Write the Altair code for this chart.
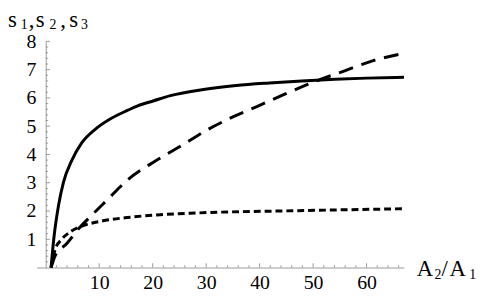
import altair as alt
import pandas as pd

# ---- data ----
s1_x = [1, 1.5, 2.4, 3.3, 4.9, 6.7, 9.2, 12.2, 15.3, 17.2, 20.2, 23.3, 29.5, 35.6, 41.8, 47.9, 54.1, 60, 67]
s1_y = [0, 1.0, 2.2, 3.0, 3.8, 4.4, 4.88, 5.27, 5.56, 5.72, 5.9, 6.08, 6.3, 6.44, 6.53, 6.6, 6.66, 6.7, 6.73]
s2_x = [1, 1.8, 3.9, 6.1, 8.5, 11.6, 15.3, 20.8, 25.1, 30.1, 35, 39.9, 44.8, 49.1, 55.9, 61.1, 67]
s2_y = [0, 0.43, 0.84, 1.36, 1.83, 2.41, 3.1, 3.8, 4.28, 4.86, 5.33, 5.73, 6.14, 6.49, 6.96, 7.31, 7.58]
s3_x = [1, 1.8, 3, 4.9, 7.3, 10.4, 15.3, 20.8, 28.2, 46.7, 67]
s3_y = [0, 0.66, 1.0, 1.3, 1.5, 1.64, 1.77, 1.86, 1.93, 2.01, 2.08]

x_major = [10, 20, 30, 40, 50, 60]
x_minor = [v for v in range(2, 67, 2) if v % 10 != 0]
y_major = [1, 2, 3, 4, 5, 6, 7, 8]
y_minor = [round(i * 0.2, 1) for i in range(1, 40) if i % 5 != 0]

FONT = "Liberation Serif"
AX = "#9a9a9a"
W, H = 372, 229
XDOM = [-1.7, 67]
YDOM = [0, 8]
Y_OFF = -(0 - XDOM[0]) * W / (XDOM[1] - XDOM[0])

xs = alt.Scale(domain=XDOM, nice=False, zero=False)
ys = alt.Scale(domain=YDOM, nice=False, zero=False)

x_axis = alt.Axis(values=x_major, ticks=False, grid=False, title=None,
                  domainColor=AX, domainWidth=1, labelFont=FONT,
                  labelFontSize=20, labelColor="black", labelPadding=5,
                  labelOverlap=False, labelFlush=False)
y_axis = alt.Axis(values=y_major, ticks=False, grid=False, title=None,
                  domainColor=AX, domainWidth=1, labelFont=FONT,
                  labelFontSize=20, labelColor="black", labelPadding=10,
                  labelOverlap=False, labelFlush=False, offset=Y_OFF)

def line(xv, yv, dash):
    df = pd.DataFrame({"x": xv, "y": yv})
    kw = dict(color="black", strokeWidth=3, interpolate="monotone")
    if dash:
        kw["strokeDash"] = dash
    return alt.Chart(df).mark_line(**kw).encode(
        x=alt.X("x:Q", scale=xs, axis=x_axis),
        y=alt.Y("y:Q", scale=ys, axis=y_axis),
    )

def xticks(vals, h):
    df = pd.DataFrame({"x": vals, "y": [0] * len(vals), "y2": [h] * len(vals)})
    return alt.Chart(df).mark_rule(color=AX, strokeWidth=1).encode(
        x=alt.X("x:Q", scale=xs, axis=x_axis), y=alt.Y("y:Q", scale=ys, axis=y_axis), y2="y2:Q")

def yticks(vals, w):
    df = pd.DataFrame({"y": vals, "x": [0] * len(vals), "x2": [w] * len(vals)})
    return alt.Chart(df).mark_rule(color=AX, strokeWidth=1).encode(
        y=alt.Y("y:Q", scale=ys, axis=y_axis), x=alt.X("x:Q", scale=xs, axis=x_axis), x2="x2:Q")

def txt(s, px, py, size):
    return alt.Chart(pd.DataFrame({"t": [s]})).mark_text(
        text=s, font=FONT, fontSize=size, color="black", align="left", baseline="alphabetic"
    ).encode(x=alt.value(px), y=alt.value(py))

labels = [
    txt("s", -29, -15, 23), txt("1", -16, -13, 14), txt(",", -8, -15, 23),
    txt("s", -1, -15, 23), txt("2", 13, -13, 14), txt(",", 24, -15, 23),
    txt("s", 33, -15, 23), txt("3", 45, -13, 14),
    txt("A", 385, 238, 23), txt("2", 403, 241, 14), txt("/", 410, 238, 23),
    txt("A", 418, 238, 23), txt("1", 438, 241, 14),
]

chart = alt.layer(
    xticks(x_minor, 0.08), xticks(x_major, 0.15),
    yticks(y_minor, 0.45), yticks(y_major, 0.8),
    line(s1_x, s1_y, None),
    line(s2_x, s2_y, [15, 9]),
    line(s3_x, s3_y, [7, 4]),
    *labels,
).properties(
    width=W, height=H,
    autosize=alt.AutoSizeParams(type="none"),
    padding={"left": 29, "top": 32, "right": 80, "bottom": 26},
).configure_view(stroke=None)

chart.save("out.html", embed_options={"renderer": "svg", "actions": False})
